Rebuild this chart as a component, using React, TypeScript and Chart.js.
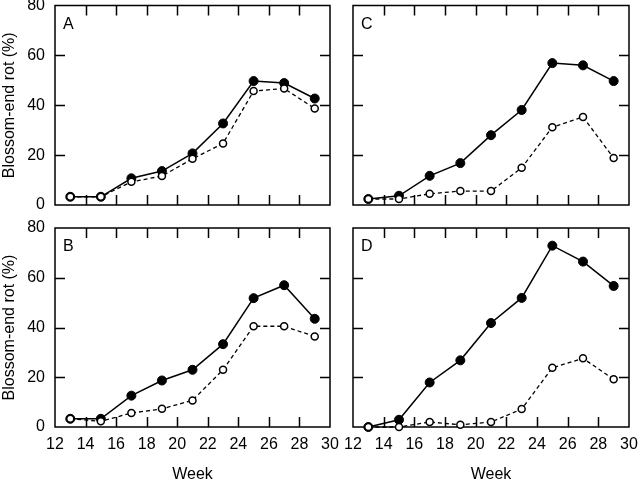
import React, { useEffect, useRef } from "react";
import { Chart, registerables } from "chart.js";

Chart.register(...registerables);

// ---- Data ----
const weeks = [13, 15, 17, 19, 21, 23, 25, 27, 29];
const aFilled = [3.3, 3.3, 10.7, 13.6, 20.7, 32.7, 49.7, 48.9, 42.7];
const aOpen = [3.3, 3.3, 9.3, 11.6, 18.5, 24.7, 45.7, 46.7, 38.7];
const bFilled = [3.3, 3.3, 12.6, 18.7, 23.0, 33.3, 51.8, 57.0, 43.5];
const bOpen = [3.3, 2.3, 5.6, 7.3, 10.7, 23.0, 40.5, 40.5, 36.4];
const cFilled = [2.4, 3.7, 11.7, 16.8, 28.0, 38.1, 56.9, 56.0, 49.7];
const cOpen = [2.4, 2.4, 4.5, 5.6, 5.6, 14.9, 31.2, 35.3, 18.8];
const dFilled = [0, 2.9, 17.9, 26.8, 41.8, 51.9, 72.9, 66.5, 56.7];
const dOpen = [0, 0, 2.0, 0.9, 2.0, 7.2, 23.8, 27.6, 19.2];
const xTicks = [12, 14, 16, 18, 20, 22, 24, 26, 28, 30];
const yTicks = [0, 20, 40, 60, 80];
const yTitle = "Blossom-end rot (%)";
const xTitle = "Week";

const FONT = "'Liberation Sans', Arial, Helvetica, sans-serif";

type Panel = {
  letter: string;
  filled: number[];
  open: number[];
  left: number;
  top: number;
  width: number;
  height: number;
  leftLabels: boolean;
  bottomLabels: boolean;
  pad: { top: number; right: number; bottom: number; left: number };
  yWidth: number;
  xHeight: number;
};

const panels: Panel[] = [
  { letter: "A", filled: aFilled, open: aOpen, left: 0, top: 0, width: 345, height: 215, leftLabels: true, bottomLabels: false, pad: { top: 5, right: 15, bottom: 10, left: 0 }, yWidth: 55, xHeight: 0 },
  { letter: "C", filled: cFilled, open: cOpen, left: 335, top: 0, width: 305, height: 215, leftLabels: false, bottomLabels: false, pad: { top: 5, right: 11, bottom: 10, left: 0 }, yWidth: 18, xHeight: 0 },
  { letter: "B", filled: bFilled, open: bOpen, left: 0, top: 215, width: 345, height: 272, leftLabels: true, bottomLabels: true, pad: { top: 13, right: 15, bottom: 0, left: 0 }, yWidth: 55, xHeight: 60 },
  { letter: "D", filled: dFilled, open: dOpen, left: 335, top: 215, width: 305, height: 272, leftLabels: false, bottomLabels: true, pad: { top: 13, right: 11, bottom: 0, left: 0 }, yWidth: 18, xHeight: 60 },
];

const framePlugin = {
  id: "frame",
  beforeDatasetsDraw(chart: any, _args: any, opts: any) {
    const { ctx, chartArea: a, scales } = chart;
    ctx.save();
    ctx.strokeStyle = "#000";
    ctx.lineWidth = 1.5;
    ctx.strokeRect(a.left, a.top, a.right - a.left, a.bottom - a.top);
    const L = 10;
    ctx.beginPath();
    for (const t of xTicks) {
      if (t === xTicks[0] || t === xTicks[xTicks.length - 1]) continue;
      const x = Math.round(scales.x.getPixelForValue(t)) + 0.5;
      ctx.moveTo(x, a.bottom);
      ctx.lineTo(x, a.bottom - L);
      ctx.moveTo(x, a.top);
      ctx.lineTo(x, a.top + L);
    }
    for (const t of yTicks) {
      if (t === yTicks[0] || t === yTicks[yTicks.length - 1]) continue;
      const y = Math.round(scales.y.getPixelForValue(t)) + 0.5;
      ctx.moveTo(a.left, y);
      ctx.lineTo(a.left + L, y);
      ctx.moveTo(a.right, y);
      ctx.lineTo(a.right - L, y);
    }
    ctx.stroke();
    ctx.font = `16px ${FONT}`;
    ctx.fillStyle = "#000";
    ctx.textBaseline = "middle";
    ctx.textAlign = "left";
    ctx.fillText(opts.letter, a.left + 8, a.top + 19);
    ctx.restore();
  },
};

function PanelChart({ p }: { p: Panel }) {
  const ref = useRef<HTMLCanvasElement>(null);
  useEffect(() => {
    if (!ref.current) return;
    const chart = new Chart(ref.current, {
      type: "line",
      data: {
        datasets: [
          {
            data: weeks.map((w, i) => ({ x: w, y: p.open[i] })),
            borderColor: "#000",
            borderWidth: 1.3,
            borderDash: [4, 3],
            pointRadius: 3.5,
            pointBackgroundColor: "#fff",
            pointBorderColor: "#000",
            pointBorderWidth: 1.5,
            clip: false as any,
          },
          {
            data: weeks.map((w, i) => ({ x: w, y: p.filled[i] })),
            borderColor: "#000",
            borderWidth: 1.5,
            pointRadius: 4.5,
            pointBackgroundColor: "#000",
            pointBorderColor: "#000",
            pointBorderWidth: 1,
            clip: false as any,
          },
        ],
      },
      options: {
        responsive: false,
        animation: false,
        layout: { padding: p.pad },
        plugins: {
          legend: { display: false },
          tooltip: { enabled: false },
          frame: { letter: p.letter },
        } as any,
        scales: {
          x: {
            type: "linear",
            min: 12,
            max: 30,
            grid: { display: false, drawTicks: false },
            border: { display: false },
            ticks: {
              display: p.bottomLabels,
              stepSize: 2,
              autoSkip: false,
              maxRotation: 0,
              padding: 8,
              color: "#000",
              font: { family: FONT, size: 16 },
            },
            title: {
              display: p.bottomLabels,
              text: xTitle,
              color: "#000",
              padding: { top: 0, bottom: 3 },
              font: { family: FONT, size: 16 },
            },
            afterFit: (s: any) => {
              s.height = p.xHeight;
              s.paddingLeft = 0;
              s.paddingRight = 0;
            },
          },
          y: {
            type: "linear",
            min: 0,
            max: 80,
            grid: { display: false, drawTicks: false },
            border: { display: false },
            ticks: {
              display: p.leftLabels,
              stepSize: 20,
              padding: 10,
              color: "#000",
              font: { family: FONT, size: 16 },
            },
            title: {
              display: p.leftLabels,
              text: yTitle,
              color: "#000",
              padding: 0,
              font: { family: FONT, size: 16 },
            },
            afterFit: (s: any) => {
              s.width = p.yWidth;
              s.paddingTop = 0;
              s.paddingBottom = 0;
            },
          },
        },
      },
      plugins: [framePlugin],
    });
    return () => chart.destroy();
  }, []);
  return (
    <canvas
      ref={ref}
      width={p.width}
      height={p.height}
      style={{ position: "absolute", left: p.left, top: p.top, width: p.width, height: p.height }}
    />
  );
}

export default function App() {
  return (
    <div style={{ position: "fixed", left: 0, top: 0, width: 640, height: 482, background: "#fff", overflow: "hidden" }}>
      {panels.map((p) => (
        <PanelChart key={p.letter} p={p} />
      ))}
    </div>
  );
}
